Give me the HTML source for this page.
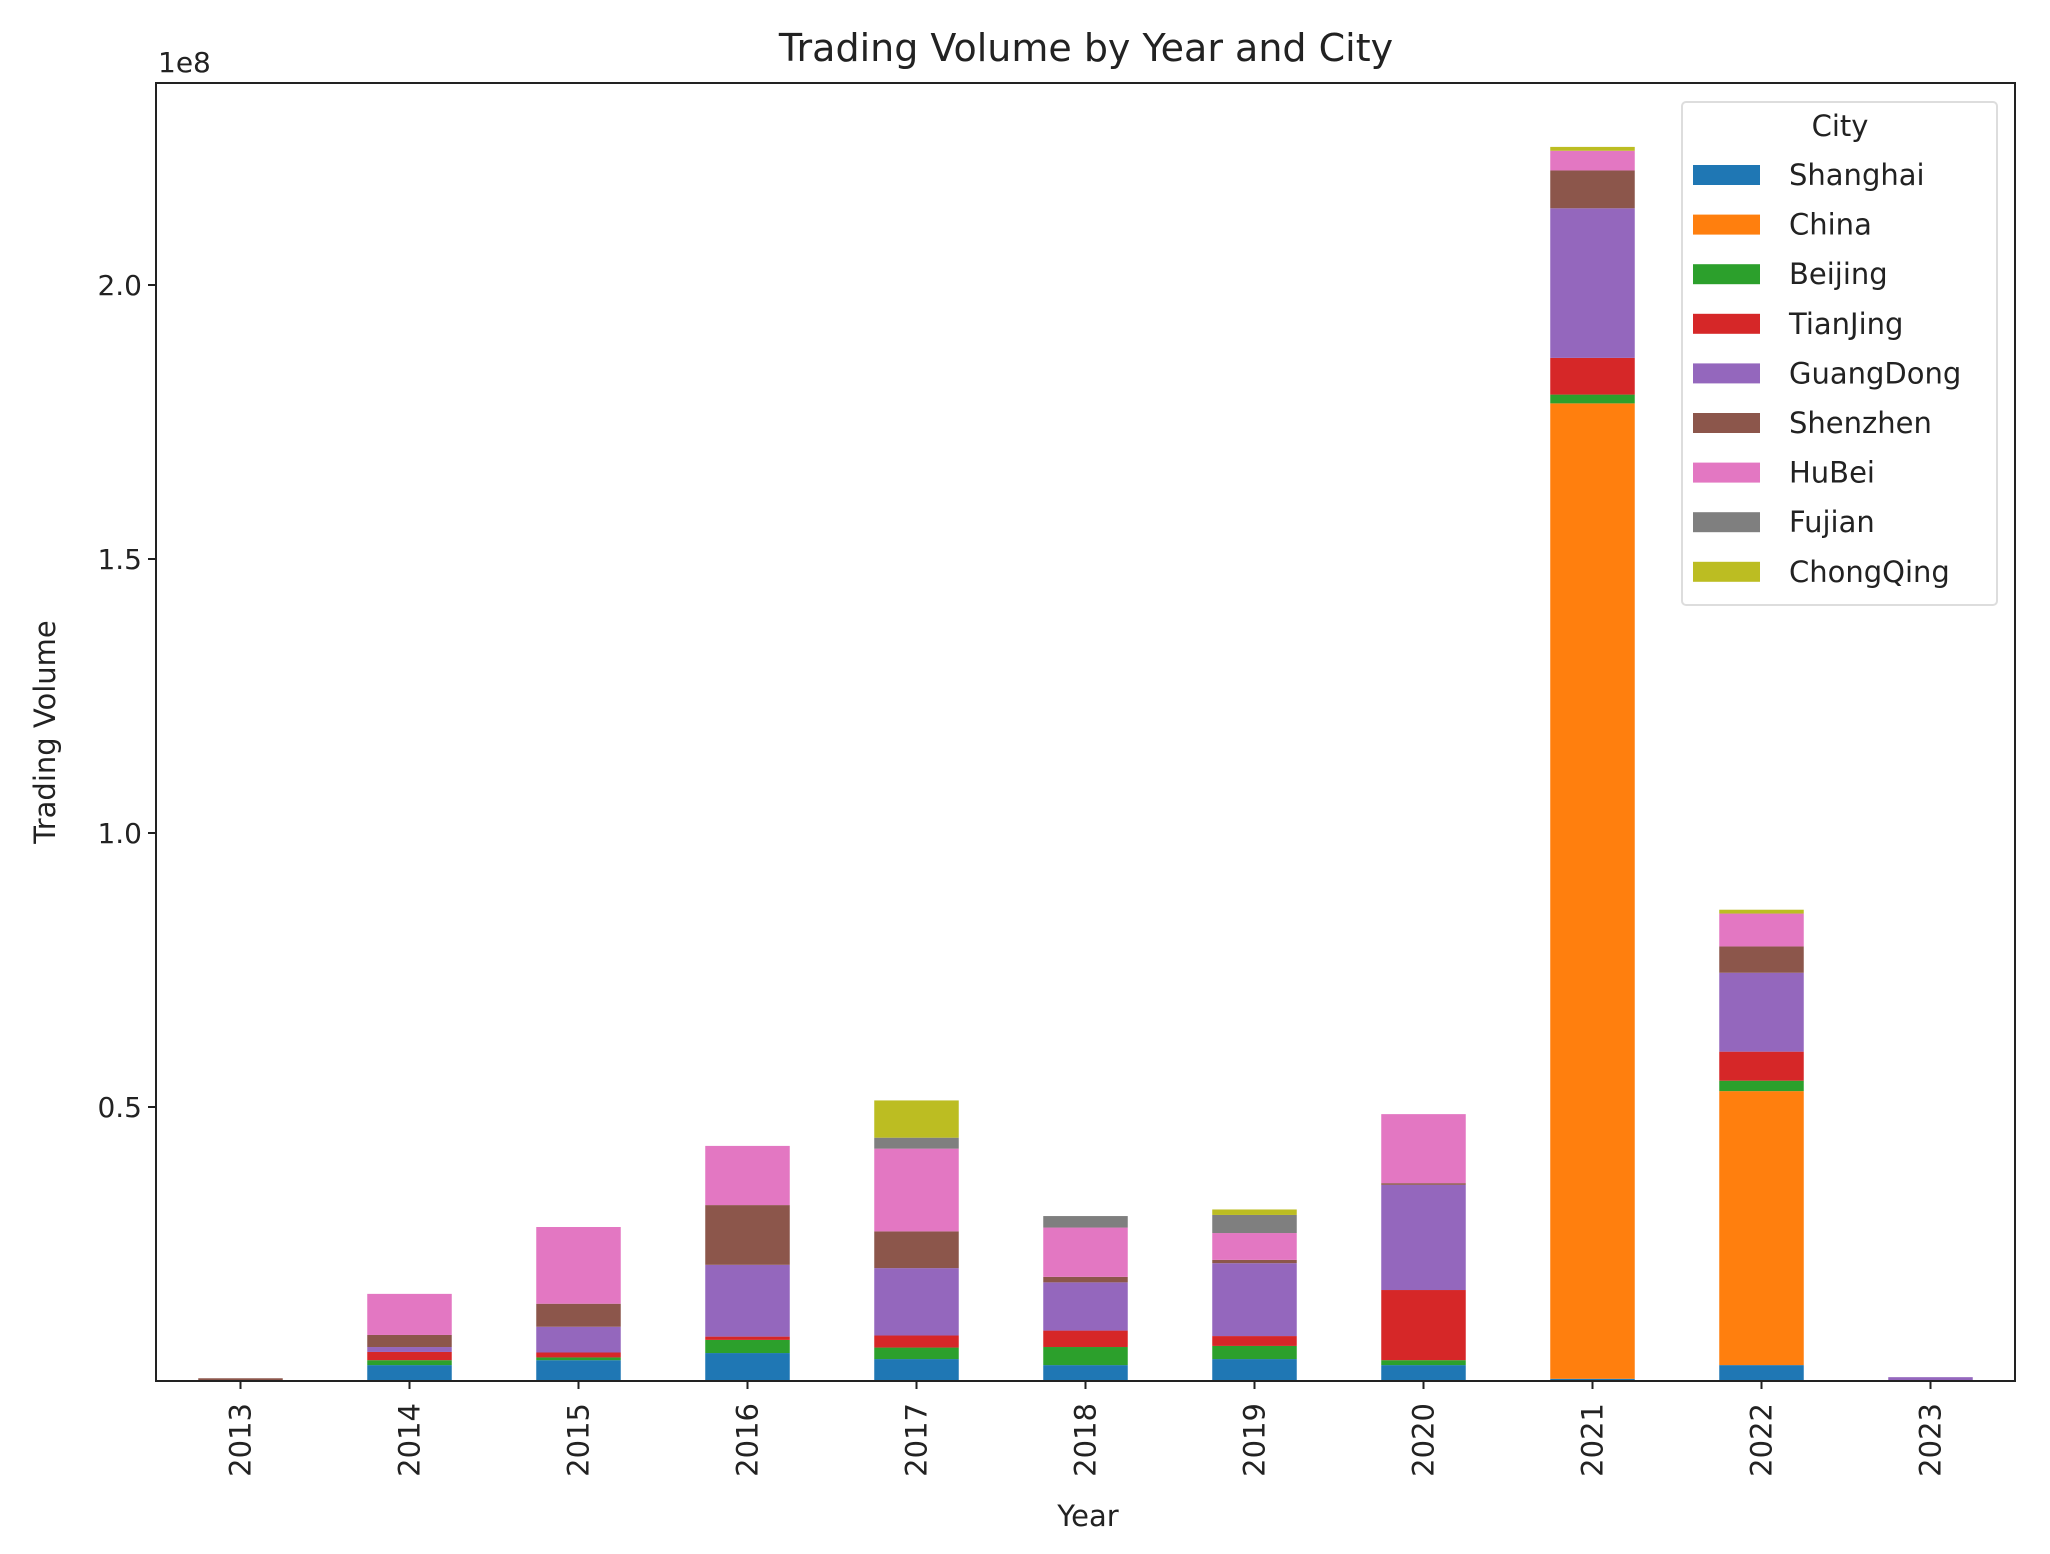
<!DOCTYPE html>
<html><head><meta charset="utf-8"><style>
html,body{margin:0;padding:0;background:#fff;}
svg{display:block;font-family:"DejaVu Sans","Liberation Sans",sans-serif;}
</style></head><body>
<svg id="chart" width="2050" height="1554" viewBox="0 0 2050 1554" xmlns="http://www.w3.org/2000/svg">
<rect width="2050" height="1554" fill="#fff"/>
<text x="1086" y="61" font-size="38" text-anchor="middle" fill="#222">Trading Volume by Year and City</text>
<text x="158" y="72" font-size="28" fill="#222">1e8</text>
<g id="bars"></g>
<g id="yticks"></g>
<g id="xticks"></g>
<rect x="156" y="83" width="1859" height="1298" fill="none" stroke="#222" stroke-width="2"/>
<text transform="translate(55,732) rotate(-90)" font-size="29" text-anchor="middle" fill="#222">Trading Volume</text>
<text x="1088" y="1526" font-size="29" text-anchor="middle" fill="#222">Year</text>
<g id="legend">
<rect x="1682" y="102" width="315" height="503" rx="4" fill="#fff" stroke="#ddd" stroke-width="2"/>
<text x="1840" y="136" font-size="29" text-anchor="middle" fill="#222">City</text>
</g>
</svg>
<script>
const years = ["2013","2014","2015","2016","2017","2018","2019","2020","2021","2022","2023"];
const cities = ["Shanghai","China","Beijing","TianJing","GuangDong","Shenzhen","HuBei","Fujian","ChongQing"];
const colors = ["#1f77b4","#ff7f0e","#2ca02c","#d62728","#9467bd","#8c564b","#e377c2","#7f7f7f","#bcbd22"];
const shanghai  = [0,0.029,0.038,0.051,0.040,0.029,0.040,0.029,0.004,0.029,0];
const china     = [0,0,0,0,0,0,0,0,1.780,0.500,0];
const beijing   = [0,0.009,0.005,0.024,0.021,0.033,0.024,0.009,0.016,0.019,0];
const tianjing  = [0,0.015,0.009,0.006,0.022,0.030,0.018,0.128,0.067,0.053,0];
const guangdong = [0,0.009,0.047,0.131,0.123,0.088,0.133,0.192,0.273,0.144,0.007];
const shenzhen  = [0.005,0.022,0.042,0.109,0.067,0.010,0.006,0.003,0.069,0.048,0];
const hubei     = [0,0.075,0.140,0.108,0.151,0.090,0.049,0.126,0.036,0.060,0];
const fujian    = [0,0,0,0,0.020,0.021,0.033,0,0,0,0];
const chongqing = [0,0,0,0,0.068,0,0.010,0,0.007,0.007,0];
const series = [shanghai,china,beijing,tianjing,guangdong,shenzhen,hubei,fujian,chongqing];
const yTickValues = [0.5,1.0,1.5,2.0];
const yTickLabels = ["0.5","1.0","1.5","2.0"];

const NS="http://www.w3.org/2000/svg";
const L=156,R=2015,T=83,B=1381;
const pxPerUnit=548;
const band=(R-L)/years.length;
function xScale(i){return L+band*(i+0.5);}
function yScale(v){return B-v*pxPerUnit;}
function mk(tag,attrs,parent){const e=document.createElementNS(NS,tag);for(const k in attrs)e.setAttribute(k,attrs[k]);parent.appendChild(e);return e;}

const gb=document.getElementById('bars');
const bw=band*0.5;
years.forEach((yr,i)=>{
  let acc=0;
  series.forEach((s,j)=>{
    const v=s[i];
    if(v<=0){return;}
    const y0=yScale(acc), y1=yScale(acc+v);
    const r=mk('rect',{x:xScale(i)-bw/2,y:y1,width:bw,height:y0-y1,fill:colors[j]},gb);
    
    
    acc+=v;
  });
});

const gy=document.getElementById('yticks');
yTickValues.forEach((v,i)=>{
  const y=yScale(v);
  const l=mk('line',{x1:L-8,x2:L,y1:y,y2:y,stroke:'#222','stroke-width':2},gy);
  
  
  const t=mk('text',{x:L-14,y:y+10,'font-size':28,'text-anchor':'end',fill:'#222'},gy);
  t.textContent=yTickLabels[i];
  
  
});

const gx=document.getElementById('xticks');
years.forEach((yr,i)=>{
  const x=xScale(i);
  const l=mk('line',{x1:x,x2:x,y1:B,y2:B+8,stroke:'#222','stroke-width':2},gx);
  
  
  const t=mk('text',{transform:'translate('+(x+10)+','+(B+22)+') rotate(-90)','font-size':29,'text-anchor':'end',fill:'#222'},gx);
  t.textContent=yr;
  
  
});

const lg=document.getElementById('legend');
cities.forEach((c,j)=>{
  const cy=175+j*49.6;
  const r=mk('rect',{x:1693,y:cy-10,width:67,height:20,fill:colors[j]},lg);
  
  
  const t=mk('text',{x:1789,y:cy+10,'font-size':29,fill:'#222'},lg);
  t.textContent=c;
  
  
});
</script>
</body></html>
